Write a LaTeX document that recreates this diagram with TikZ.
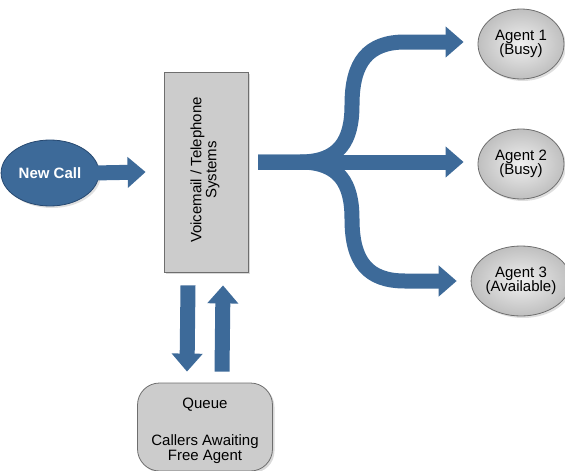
\documentclass[tikz,border=0pt]{standalone}
\usepackage{fontspec}
\setmainfont{Liberation Sans}
\usetikzlibrary{arrows.meta,shapes.geometric,shadows}
\definecolor{flowblue}{RGB}{61,106,153}
\definecolor{flowdark}{RGB}{38,72,112}
\definecolor{boxgray}{RGB}{204,204,204}
\definecolor{edgegray}{RGB}{110,110,110}
\begin{document}
\begin{tikzpicture}[x=1pt,y=-1pt,
  flow/.style={draw=flowblue, line width=15pt, line join=round,
    -{Triangle[width=30pt,length=18pt]}},
  agent/.style={ellipse, draw=edgegray, line width=0.8pt, inner color=gray!12, outer color=gray!50,
    minimum width=86pt, minimum height=70pt, inner sep=0pt, align=center,
    font=\fontsize{15}{14}\selectfont,
    drop shadow={opacity=0.25, shadow xshift=2pt, shadow yshift=-2pt}},
  boxstyle/.style={draw=edgegray, line width=0.8pt, fill=boxgray,
    drop shadow={opacity=0.3, shadow xshift=2pt, shadow yshift=-2pt}},
  txt/.style={font=\fontsize{15}{15}\selectfont, align=center}
]
\useasboundingbox (0,0) rectangle (565,471);

% nodes
\node[ellipse, fill=flowblue, draw=flowdark, line width=0.8pt,
      minimum width=90pt, minimum height=66pt, text=white,
      font=\fontsize{15}{15}\selectfont\bfseries,
      drop shadow={opacity=0.25, shadow xshift=2pt, shadow yshift=-2pt}]
      (nc) at (50,173) {New Call};

\node[boxstyle, minimum width=84pt, minimum height=200pt, inner sep=0pt]
      (vm) at (206,172) {};
\node[txt, rotate=90] (vmtext) at (205,170) {Voicemail / Telephone\\Systems};

\node[agent] (a1) at (521,44) {Agent 1\\(Busy)};
\node[agent] (a2) at (521,164) {Agent 2\\(Busy)};
\node[agent] (a3) at (521,281) {Agent 3\\(Available)};

\node[boxstyle, rounded corners=22pt, minimum width=135pt, minimum height=88pt,
      inner sep=0pt] (q) at (205,427) {};
\node[txt] (qtitle) at (205,405) {Queue};
\node[txt] (qtext) at (205,449) {Callers Awaiting\\Free Agent};

% connectors
\coordinate (fs) at (258,162);
\draw[flow] (nc.east) ++(-6,0) -- ([xshift=-18]vm.west);
\draw[flow] (fs) -- ([xshift=-14]a2.west |- fs);
\draw[flow] (fs) -- (300,162) .. controls (340,162) and (352,140) .. (352,105)
   .. controls (352,62) and (368,42) .. (405,42) -- ([xshift=-14]a1.west |- 0,42);
\draw[flow] (fs) -- (300,162) .. controls (340,162) and (352,184) .. (352,219)
   .. controls (352,262) and (368,281) .. (405,281) -- ([xshift=-14]a3.west);

\draw[flow] ([xshift=-18,yshift=-13]vm.south) -- ([xshift=-18,yshift=11]q.north);
\draw[flow] ([xshift=17,yshift=11]q.north) -- ([xshift=17,yshift=-13]vm.south);
\end{tikzpicture}
\end{document}
